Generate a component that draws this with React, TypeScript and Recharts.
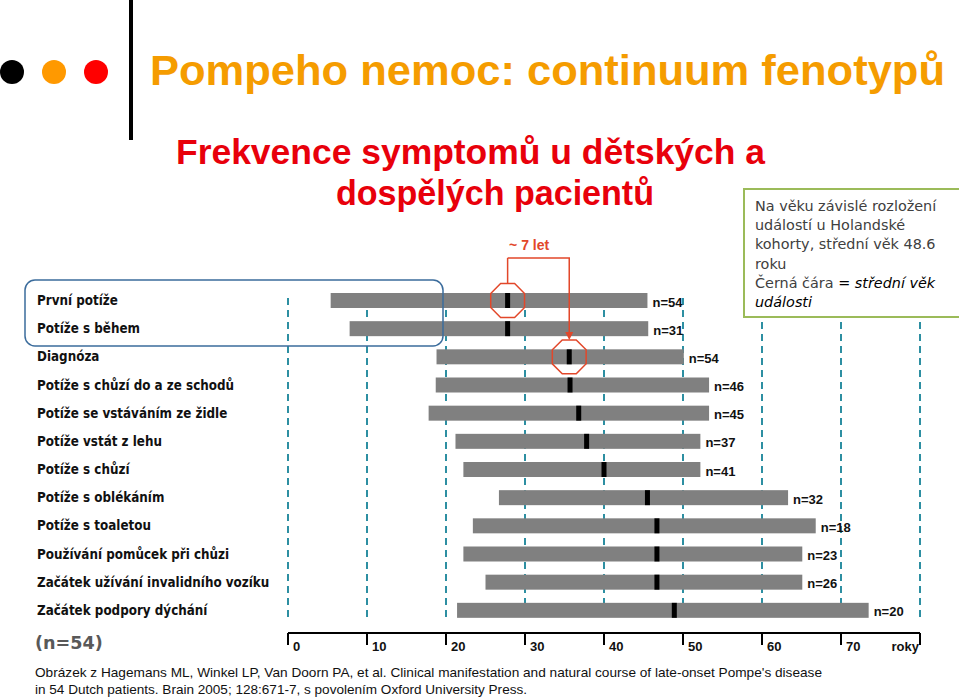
import React from 'react';
import { BarChart, Bar, XAxis, YAxis, CartesianGrid, LabelList } from 'recharts';

// kategorie (řádky grafu, shora dolů)
const symptoms = [
   'První potíže',
   'Potíže s během',
   'Diagnóza',
   'Potíže s chůzí do a ze schodů',
   'Potíže se vstáváním ze židle',
   'Potíže vstát z lehu',
   'Potíže s chůzí',
   'Potíže s oblékáním',
   'Potíže s toaletou',
   'Používání pomůcek při chůzi',
   'Začátek užívání invalidního vozíku',
   'Začátek podpory dýchání',
];

// věk (roky): začátek a konec rozsahu, medián
const ageStart = [5.4, 7.8, 18.8, 18.7, 17.8, 21.2, 22.2, 26.7, 23.4, 22.2, 25.0, 21.4];
const ageEnd = [45.5, 45.6, 50.1, 53.3, 53.3, 52.2, 52.2, 63.3, 66.8, 65.1, 65.1, 73.5];
const medianAge = [27.8, 27.8, 35.6, 35.7, 36.8, 37.8, 40.0, 45.5, 46.7, 46.7, 46.7, 48.9];
const patientCounts = [54, 31, 54, 46, 45, 37, 41, 32, 18, 23, 26, 20];

const ageTicks = [0, 10, 20, 30, 40, 50, 60, 70, 80];
const axisUnit = 'roky';

// zvýrazněné řádky a rozdíl mezi nimi
const markedRows = ['První potíže', 'Diagnóza'];
const gapFrom = 'První potíže';
const gapTo = 'Diagnóza';
const gapLabel = '~ 7 let';

const data = symptoms.map((name, i) => ({
   name,
   range: [ageStart[i], ageEnd[i]],
   median: medianAge[i],
   n: patientCounts[i],
}));

const RED = '#E2472A';
const BRACKET_Y = 258;
const ARIAL = "'Liberation Sans', Arial, sans-serif";
const VERDANA = "'DejaVu Sans', Verdana, sans-serif";

const octagon = (cx: number, cy: number, r: number) =>
   Array.from({ length: 8 }, (_, k) => {
      const a = (Math.PI / 8) * (2 * k + 1);
      return `${cx + r * Math.cos(a)},${cy + r * Math.sin(a)}`;
   }).join(' ');

const RangeBar = (props: any) => {
   const { x, y, width, height, payload } = props;
   const [lo, hi] = payload.range;
   const perYear = width / (hi - lo);
   const mx = x + (payload.median - lo) * perYear;
   const cy = y + height / 2;
   const r = 18.3;
   const flat = r * Math.cos(Math.PI / 8);

   let bracket = null;
   if (payload.name === gapFrom) {
      bracket = <line x1={mx} x2={mx} y1={cy - flat} y2={BRACKET_Y} stroke={RED} strokeWidth={1.5} />;
   }
   if (payload.name === gapTo) {
      const fromMedian = medianAge[symptoms.indexOf(gapFrom)];
      const fx = mx + (fromMedian - payload.median) * perYear;
      bracket = (
         <g>
            <polyline
               points={`${fx},${BRACKET_Y} ${mx},${BRACKET_Y} ${mx},${cy - flat - 7}`}
               fill="none"
               stroke={RED}
               strokeWidth={1.5}
            />
            <polygon points={`${mx},${cy - flat} ${mx - 4},${cy - flat - 8} ${mx + 4},${cy - flat - 8}`} fill={RED} />
            <text x={fx + 1.5} y={BRACKET_Y - 8} fontFamily={ARIAL} fontWeight="bold" fontSize={14} fill={RED}>
               {gapLabel}
            </text>
         </g>
      );
   }

   return (
      <g>
         <rect x={x} y={y} width={width} height={height} fill="#808080" />
         <rect x={mx - 2.5} y={y} width={5} height={height} fill="#000" />
         {markedRows.includes(payload.name) && (
            <polygon points={octagon(mx, cy, r)} fill="none" stroke={RED} strokeWidth={1.5} />
         )}
         {bracket}
      </g>
   );
};

const CountLabel = (props: any) => {
   const { x, y, width, height, value } = props;
   return (
      <text x={x + width + 5} y={y + height / 2 + 6} fontFamily={ARIAL} fontWeight="bold" fontSize={13} fill="#111">
         {`n=${value}`}
      </text>
   );
};

const SymptomTick = (props: any) => {
   const { y, payload } = props;
   return (
      <text
         transform={`translate(37 ${y + 5}) scale(0.9 1)`}
         fontFamily={VERDANA}
         fontWeight="bold"
         fontSize={13.3}
         fill="#111"
      >
         {payload.value}
      </text>
   );
};

const AgeTick = (props: any) => {
   const { x, y, payload } = props;
   const last = payload.value === ageTicks[ageTicks.length - 1];
   return (
      <text
         x={last ? x - 1 : x + 5}
         y={y + 6}
         textAnchor={last ? 'end' : 'start'}
         fontFamily={ARIAL}
         fontWeight="bold"
         fontSize={13}
         fill="#111"
      >
         {last ? axisUnit : payload.value}
      </text>
   );
};

export default function App() {
   return (
      <div style={{ position: 'absolute', left: 0, top: 0, width: 959, height: 697, background: '#fff', overflow: 'hidden' }}>
         <div style={{ position: 'absolute', left: 0, top: 0 }}>
            <BarChart
               width={959}
               height={697}
               data={data}
               layout="vertical"
               margin={{ top: 286, right: 39, bottom: 34, left: 38 }}
            >
               <CartesianGrid
                  horizontal={false}
                  stroke="#2D8FA2"
                  strokeWidth={2}
                  strokeDasharray="7 5"
                  y={298}
                  height={324}
               />
               <XAxis
                  type="number"
                  domain={[0, 80]}
                  ticks={ageTicks}
                  interval={0}
                  height={30}
                  tickSize={12}
                  tickMargin={0}
                  axisLine={{ stroke: '#000', strokeWidth: 2 }}
                  tickLine={{ stroke: '#000', strokeWidth: 2 }}
                  tick={<AgeTick />}
               />
               <YAxis
                  type="category"
                  dataKey="name"
                  width={250}
                  interval={0}
                  axisLine={false}
                  tickLine={false}
                  padding={{ top: 0, bottom: 9 }}
                  tick={<SymptomTick />}
               />
               <Bar dataKey="range" barSize={15} shape={<RangeBar />} isAnimationActive={false}>
                  <LabelList dataKey="n" content={<CountLabel />} />
               </Bar>
            </BarChart>
         </div>
         <svg width={959} height={697} style={{ position: 'absolute', left: 0, top: 0, pointerEvents: 'none' }}>
            {/* hlavička */}
            <circle cx={12} cy={72} r={12} fill="#000" />
            <circle cx={54} cy={72} r={12} fill="#FF9900" />
            <circle cx={96} cy={72} r={12} fill="#FF0000" />
            <rect x={129} y={0} width={4} height={140} fill="#000" />
            <text
               x={150}
               y={85}
               fontFamily={ARIAL}
               fontWeight="bold"
               fontSize={43}
               fill="#F59C00"
               textLength={795}
               lengthAdjust="spacingAndGlyphs"
            >
               Pompeho nemoc: continuum fenotypů
            </text>
            <text x={176} y={164} fontFamily={ARIAL} fontWeight="bold" fontSize={35} fill="#E8000B" textLength={589} lengthAdjust="spacingAndGlyphs">
               Frekvence symptomů u dětských a
            </text>
            <text x={336} y={205} fontFamily={ARIAL} fontWeight="bold" fontSize={35} fill="#E8000B" textLength={318} lengthAdjust="spacingAndGlyphs">
               dospělých pacientů
            </text>

            {/* rámečky */}
            <rect x={25} y={280} width={418} height={66} rx={10} fill="none" stroke="#3B6C9C" strokeWidth={1.5} />
            <rect x={744} y={189} width={222} height={128} fill="#fff" stroke="#9BBB59" strokeWidth={2} />
            <text fontFamily={VERDANA} fontSize={14.4} fill="#404040">
               <tspan x={755} y={211}>Na věku závislé rozložení</tspan>
               <tspan x={755} y={230.2}>událostí u Holandské</tspan>
               <tspan x={755} y={249.4}>kohorty, střední věk 48.6</tspan>
               <tspan x={755} y={268.6}>roku</tspan>
               <tspan x={755} y={287.8}>Černá čára </tspan>
               <tspan fontStyle="italic" fill="#000">= střední věk</tspan>
               <tspan x={755} y={307} fontStyle="italic" fill="#000">události</tspan>
            </text>

            {/* počet pacientů a zdroj */}
            <text x={35} y={649} fontFamily={VERDANA} fontWeight="bold" fontSize={17.6} fill="#595959">
               (n=54)
            </text>
            <text x={35} y={677} fontFamily={ARIAL} fontSize={13} fill="#111" textLength={787} lengthAdjust="spacingAndGlyphs">
               Obrázek z Hagemans ML, Winkel LP, Van Doorn PA, et al. Clinical manifestation and natural course of late-onset Pompe's disease
            </text>
            <text x={35} y={694} fontFamily={ARIAL} fontSize={13} fill="#111" textLength={492} lengthAdjust="spacingAndGlyphs">
               in 54 Dutch patients. Brain 2005; 128:671-7, s povolením Oxford University Press.
            </text>
         </svg>
      </div>
   );
}
